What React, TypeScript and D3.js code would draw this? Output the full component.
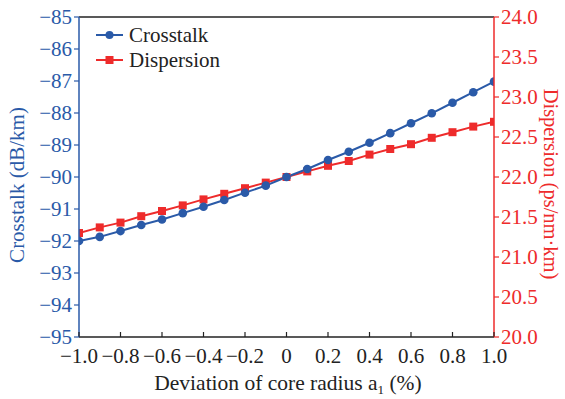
import React from "react";
import * as d3 from "d3";

const deviation = [-1.0, -0.9, -0.8, -0.7, -0.6, -0.5, -0.4, -0.3, -0.2, -0.1, 0.0, 0.1, 0.2, 0.3, 0.4, 0.5, 0.6, 0.7, 0.8, 0.9, 1.0];
const crosstalk = [-92.0, -91.87, -91.69, -91.5, -91.33, -91.13, -90.93, -90.72, -90.49, -90.27, -90.0, -89.75, -89.47, -89.21, -88.93, -88.63, -88.32, -88.01, -87.68, -87.35, -87.02];
const dispersion = [21.3, 21.37, 21.43, 21.51, 21.575, 21.645, 21.72, 21.79, 21.86, 21.93, 22.0, 22.07, 22.14, 22.2, 22.28, 22.35, 22.41, 22.49, 22.56, 22.63, 22.69];

const xTicks = [-1.0, -0.8, -0.6, -0.4, -0.2, 0, 0.2, 0.4, 0.6, 0.8, 1.0];
const leftTicks = [-95, -94, -93, -92, -91, -90, -89, -88, -87, -86, -85];
const rightTicks = [20.0, 20.5, 21.0, 21.5, 22.0, 22.5, 23.0, 23.5, 24.0];

const BLUE = "#2a5aa8";
const RED = "#ee2b2b";
const TEXT = "#222";
const FONT = "'Liberation Serif', 'Times New Roman', serif";

const W = 565;
const H = 399;
const m = { left: 79, right: 494, top: 17, bottom: 337 };

const fmtMinus = (s: string) => s.replace("-", "\u2212");

export default function App() {
  const x = d3.scaleLinear().domain([-1, 1]).range([m.left, m.right]);
  const yL = d3.scaleLinear().domain([-95, -85]).range([m.bottom, m.top]);
  const yR = d3.scaleLinear().domain([20, 24]).range([m.bottom, m.top]);

  const pts = deviation.map((d, i) => ({ d, c: crosstalk[i], p: dispersion[i] }));
  const lineC = d3.line<typeof pts[0]>().x((p) => x(p.d)).y((p) => yL(p.c));
  const lineD = d3.line<typeof pts[0]>().x((p) => x(p.d)).y((p) => yR(p.p));

  const fs = 21;

  return (
    <svg width={W} height={H} style={{ position: "absolute", left: 0, top: 0 }} fontFamily={FONT}>
      <defs>
        <clipPath id="plot">
          <rect x={m.left} y={m.top} width={m.right - m.left} height={m.bottom - m.top} />
        </clipPath>
      </defs>
      <rect width={W} height={H} fill="#fff" />

      <g clipPath="url(#plot)">
        <path d={lineD(pts) ?? ""} fill="none" stroke={RED} strokeWidth={2} />
        <path d={lineC(pts) ?? ""} fill="none" stroke={BLUE} strokeWidth={2} />
        {pts.map((p, i) => (
          <rect key={"d" + i} x={x(p.d) - 4} y={yR(p.p) - 4} width={8} height={8} fill={RED} />
        ))}
        {pts.map((p, i) => (
          <circle key={"c" + i} cx={x(p.d)} cy={yL(p.c)} r={4.3} fill={BLUE} />
        ))}
      </g>

      {/* frame */}
      <line x1={m.left} x2={m.right} y1={m.top} y2={m.top} stroke={TEXT} strokeWidth={1.3} />
      <line x1={m.left} x2={m.right} y1={m.bottom} y2={m.bottom} stroke={TEXT} strokeWidth={1.3} />
      <line x1={m.left} x2={m.left} y1={m.top} y2={m.bottom} stroke={BLUE} strokeWidth={1.5} />
      <line x1={m.right} x2={m.right} y1={m.top} y2={m.bottom} stroke={RED} strokeWidth={1.5} />

      {/* bottom axis */}
      {xTicks.map((t) => (
        <g key={"x" + t}>
          <line x1={x(t)} x2={x(t)} y1={m.bottom} y2={m.bottom - 5} stroke={TEXT} strokeWidth={1.2} />
          <text x={x(t)} y={362.5} textAnchor="middle" fontSize={fs} fill={TEXT}>
            {fmtMinus(t === 0 ? "0" : t.toFixed(1))}
          </text>
        </g>
      ))}
      <text x={288} y={390} textAnchor="middle" fontSize={21.5} fill={TEXT}>
        Deviation of core radius a<tspan fontSize={13} dy={4}>1</tspan>
        <tspan dy={-4}> (%)</tspan>
      </text>

      {/* left axis */}
      {leftTicks.map((t) => (
        <g key={"l" + t}>
          <line x1={m.left} x2={m.left - 5} y1={yL(t)} y2={yL(t)} stroke={BLUE} strokeWidth={1.2} />
          <text x={m.left - 7} y={yL(t) + 7} textAnchor="end" fontSize={fs} fill={BLUE}>
            {fmtMinus(String(t))}
          </text>
        </g>
      ))}
      <text
        transform={`translate(24, 185) rotate(-90)`}
        textAnchor="middle"
        fontSize={21}
        fill={BLUE}
      >
        Crosstalk (dB/km)
      </text>

      {/* right axis */}
      {rightTicks.map((t) => (
        <g key={"r" + t}>
          <line x1={m.right} x2={m.right + 5} y1={yR(t)} y2={yR(t)} stroke={RED} strokeWidth={1.2} />
          <text x={m.right + 7} y={yR(t) + 7} textAnchor="start" fontSize={fs} fill={RED}>
            {t.toFixed(1)}
          </text>
        </g>
      ))}
      <text
        transform={`translate(544, 184) rotate(90)`}
        textAnchor="middle"
        fontSize={20.5}
        fill={RED}
      >
        Dispersion (ps/nm·km)
      </text>

      {/* legend */}
      <g>
        <line x1={96} x2={123} y1={35} y2={35} stroke={BLUE} strokeWidth={2} />
        <circle cx={109.5} cy={35} r={4} fill={BLUE} />
        <text x={129} y={42} fontSize={21} fill={TEXT}>Crosstalk</text>
        <line x1={96} x2={123} y1={60} y2={60} stroke={RED} strokeWidth={2} />
        <rect x={105.5} y={56} width={8} height={8} fill={RED} />
        <text x={129} y={67} fontSize={21} fill={TEXT}>Dispersion</text>
      </g>
    </svg>
  );
}
